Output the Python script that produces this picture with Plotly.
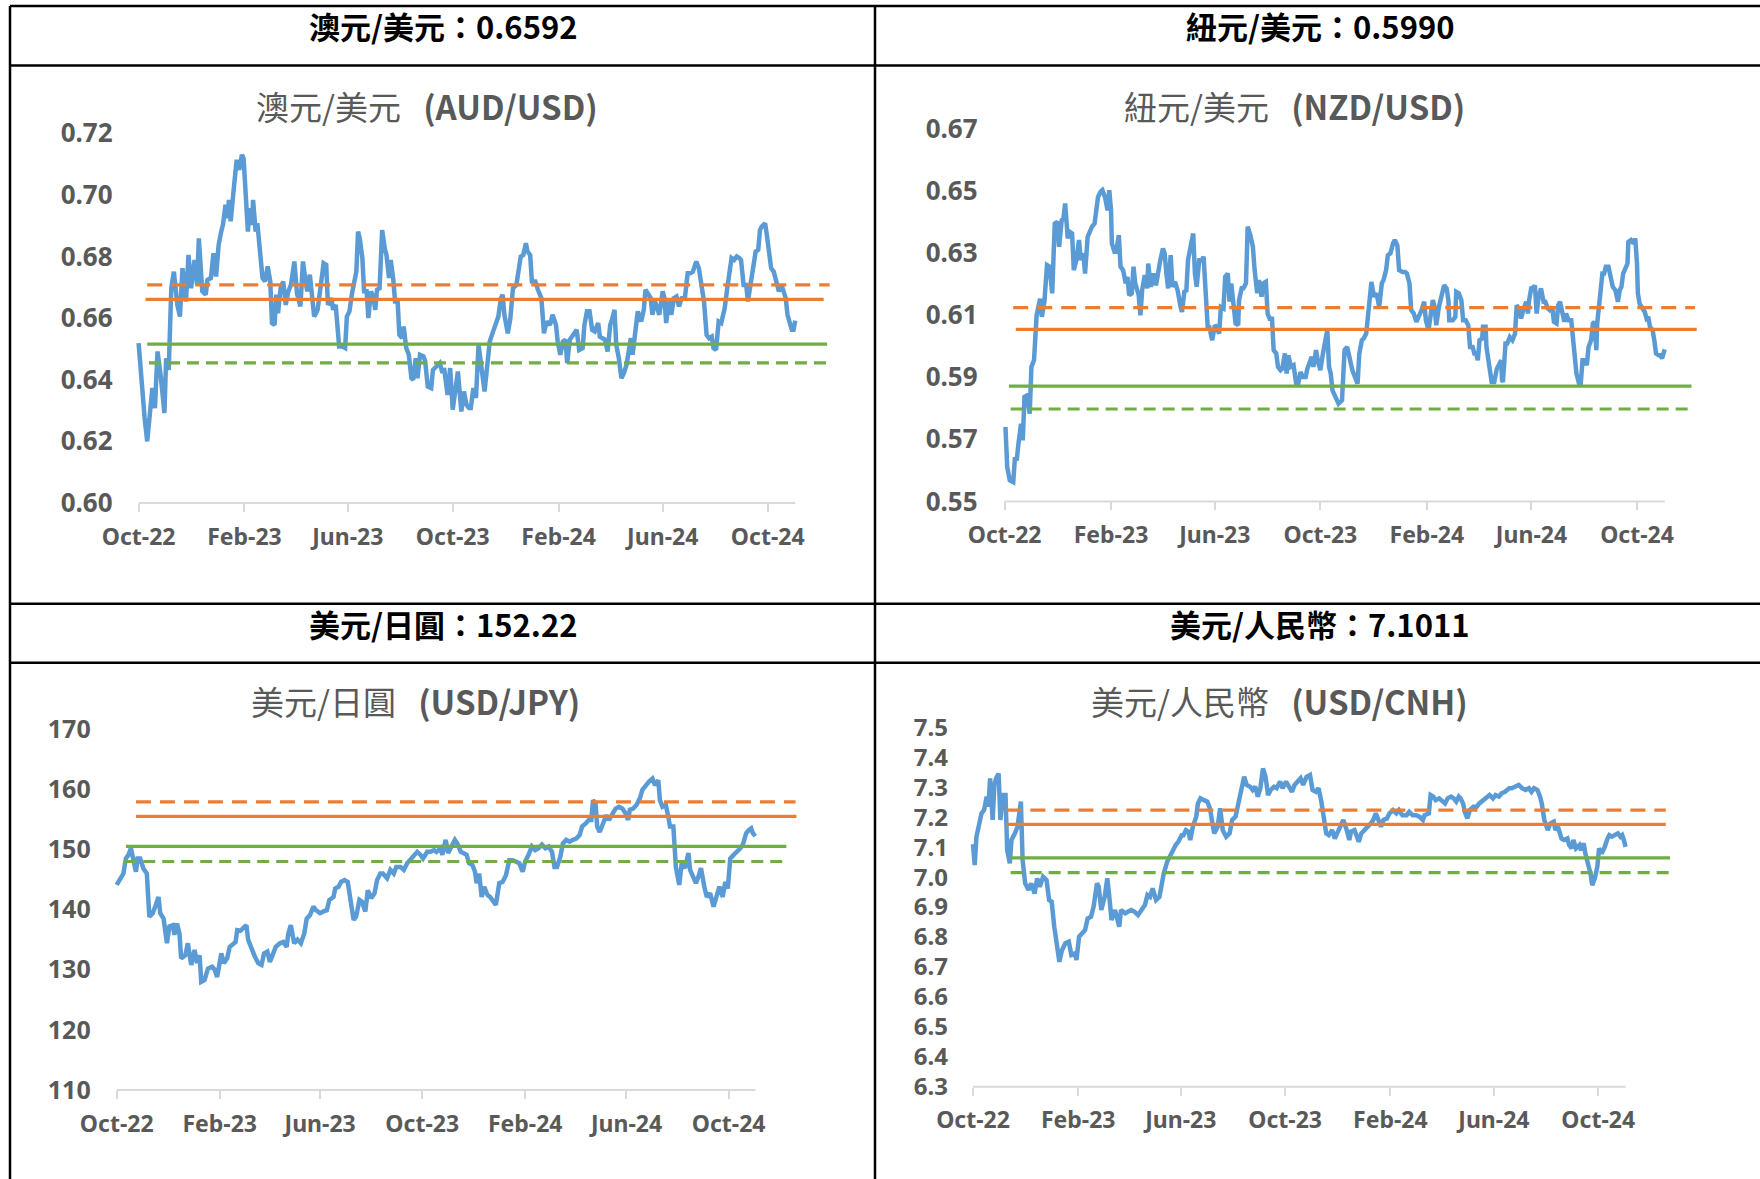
import pandas as pd
import plotly.graph_objects as go

W, H = 1760, 1179
BASE = pd.Timestamp("2022-10-01")   # day 0 of every "days" list below

# ---------------- shared axis labels ----------------
x_tick_dates = ["2022-10-01", "2023-02-01", "2023-06-01", "2023-10-01",
                "2024-02-01", "2024-06-01", "2024-10-01"]
x_tick_text = ["Oct-22", "Feb-23", "Jun-23", "Oct-23", "Feb-24", "Jun-24", "Oct-24"]

# ---------------- AUD/USD ----------------
aud_days = [0, 3, 7, 10, 13, 16, 19, 22, 26, 30,
            32, 35, 38, 41, 45, 48, 51, 55, 58, 61,
            65, 68, 70, 74, 78, 80, 84, 87, 90, 93,
            96, 98, 101, 103, 105, 107, 111, 114, 117, 120,
            122, 125, 127, 129, 132, 133, 136, 138, 141, 144,
            147, 150, 153, 155, 158, 160, 162, 165, 168, 171,
            174, 177, 181, 184, 188, 191, 194, 196, 199, 202,
            204, 208, 212, 215, 218, 220, 224, 226, 229, 233,
            237, 240, 242, 245, 248, 251, 253, 255, 257, 260,
            262, 265, 267, 270, 273, 275, 277, 280, 283, 286,
            288, 291, 293, 296, 298, 301, 303, 306, 308, 311,
            314, 317, 319, 322, 324, 327, 331, 333, 336, 340,
            342, 346, 350, 353, 355, 359, 362, 365, 368, 371,
            375, 378, 381, 384, 386, 389, 392, 395, 402, 408,
            412, 415, 418, 421, 423, 425, 429, 432, 435, 439,
            442, 444, 447, 450, 452, 455, 457, 461, 464, 468,
            471, 474, 478, 481, 485, 487, 490, 493, 496, 498,
            501, 505, 509, 512, 516, 518, 521, 524, 527, 530,
            534, 536, 539, 542, 545, 548, 550, 553, 555, 558,
            561, 564, 567, 570, 572, 574, 578, 580, 584, 587,
            589, 592, 595, 597, 600, 602, 605, 609, 611, 613,
            616, 619, 622, 625, 628, 631, 635, 638, 641, 644,
            648, 651, 654, 657, 660, 663, 666, 668, 671, 674,
            677, 681, 684, 686, 689, 692, 695, 698, 700, 703,
            706, 708, 711, 714, 717, 720, 722, 724, 728, 730,
            733, 735, 738, 741, 744, 747, 750, 752, 754, 756,
            759, 761, 763]
aud_vals = [0.6519, 0.6405, 0.6276, 0.6200, 0.6287, 0.6373, 0.6308, 0.6492, 0.6405, 0.6292,
            0.6470, 0.6432, 0.6697, 0.6751, 0.6643, 0.6605, 0.6762, 0.6654, 0.6805, 0.6697,
            0.6789, 0.6708, 0.6859, 0.6687, 0.6676, 0.6724, 0.6730, 0.6811, 0.6735, 0.6838,
            0.6881, 0.6903, 0.6968, 0.6924, 0.6984, 0.6914, 0.7032, 0.7114, 0.7081, 0.7130,
            0.7119, 0.6957, 0.6881, 0.6957, 0.6903, 0.6984, 0.6881, 0.6908, 0.6805, 0.6730,
            0.6719, 0.6768, 0.6719, 0.6584, 0.6578, 0.6676, 0.6616, 0.6697, 0.6719, 0.6643,
            0.6687, 0.6708, 0.6784, 0.6681, 0.6638, 0.6784, 0.6719, 0.6687, 0.6741, 0.6665,
            0.6605, 0.6627, 0.6708, 0.6778, 0.6773, 0.6643, 0.6665, 0.6627, 0.6643, 0.6508,
            0.6508, 0.6503, 0.6605, 0.6622, 0.6681, 0.6735, 0.6751, 0.6881, 0.6859, 0.6795,
            0.6687, 0.6687, 0.6600, 0.6687, 0.6665, 0.6627, 0.6692, 0.6697, 0.6886, 0.6827,
            0.6805, 0.6730, 0.6789, 0.6724, 0.6654, 0.6654, 0.6546, 0.6535, 0.6573, 0.6503,
            0.6481, 0.6405, 0.6400, 0.6470, 0.6405, 0.6481, 0.6476, 0.6460, 0.6378, 0.6373,
            0.6432, 0.6443, 0.6454, 0.6422, 0.6438, 0.6351, 0.6438, 0.6303, 0.6362, 0.6427,
            0.6297, 0.6362, 0.6319, 0.6308, 0.6308, 0.6373, 0.6341, 0.6514, 0.6362, 0.6524,
            0.6557, 0.6578, 0.6605, 0.6665, 0.6676, 0.6611, 0.6551, 0.6600, 0.6697, 0.6708,
            0.6762, 0.6800, 0.6805, 0.6843, 0.6816, 0.6805, 0.6719, 0.6719, 0.6692, 0.6665,
            0.6551, 0.6589, 0.6578, 0.6611, 0.6578, 0.6524, 0.6481, 0.6524, 0.6530, 0.6454,
            0.6530, 0.6546, 0.6562, 0.6497, 0.6503, 0.6578, 0.6622, 0.6622, 0.6562, 0.6557,
            0.6584, 0.6540, 0.6535, 0.6530, 0.6492, 0.6578, 0.6594, 0.6627, 0.6514, 0.6470,
            0.6405, 0.6422, 0.6449, 0.6508, 0.6535, 0.6481, 0.6600, 0.6622, 0.6589, 0.6627,
            0.6692, 0.6681, 0.6665, 0.6611, 0.6654, 0.6638, 0.6611, 0.6687, 0.6665, 0.6584,
            0.6654, 0.6611, 0.6665, 0.6670, 0.6638, 0.6665, 0.6670, 0.6746, 0.6746, 0.6751,
            0.6784, 0.6762, 0.6708, 0.6654, 0.6546, 0.6535, 0.6540, 0.6503, 0.6497, 0.6589,
            0.6584, 0.6632, 0.6697, 0.6746, 0.6795, 0.6789, 0.6800, 0.6795, 0.6789, 0.6708,
            0.6708, 0.6654, 0.6708, 0.6751, 0.6816, 0.6822, 0.6886, 0.6897, 0.6908, 0.6870,
            0.6795, 0.6762, 0.6751, 0.6719, 0.6687, 0.6708, 0.6676, 0.6665, 0.6611, 0.6594,
            0.6562, 0.6562, 0.6592]
# reference lines: [orange dashed, orange solid, green solid, green dashed]
aud_ref_levels = [0.6708, 0.6661, 0.6516, 0.6455]
aud_ref_start = [10, 8, 10, 12]
aud_ref_end = [803, 796, 800, 803]
aud_yticks = [0.60, 0.62, 0.64, 0.66, 0.68, 0.70, 0.72]

# ---------------- NZD/USD ----------------
nzd_days = [1, 3, 6, 10, 12, 14, 16, 19, 21, 23,
            26, 29, 31, 34, 37, 41, 43, 46, 49, 52,
            55, 58, 61, 63, 66, 68, 70, 73, 75, 78,
            80, 83, 86, 88, 91, 93, 96, 98, 101, 104,
            106, 108, 111, 113, 116, 119, 121, 123, 124, 127,
            129, 132, 134, 137, 140, 142, 144, 147, 149, 151,
            155, 157, 159, 162, 165, 166, 169, 172, 175, 178,
            180, 183, 185, 187, 189, 192, 194, 197, 200, 203,
            205, 208, 210, 212, 215, 218, 220, 222, 225, 228,
            230, 232, 235, 237, 240, 243, 245, 248, 250, 253,
            255, 258, 260, 262, 265, 267, 270, 271, 274, 276,
            279, 281, 284, 287, 289, 292, 294, 297, 299, 302,
            304, 307, 309, 311, 314, 316, 319, 321, 324, 326,
            328, 331, 334, 337, 339, 342, 345, 348, 350, 353,
            355, 357, 360, 362, 365, 368, 370, 373, 375, 377,
            379, 382, 386, 390, 393, 396, 402, 408, 410, 413,
            415, 418, 420, 422, 424, 427, 430, 433, 436, 438,
            441, 443, 446, 449, 451, 454, 456, 460, 463, 465,
            468, 470, 473, 476, 479, 482, 485, 487, 490, 492,
            495, 497, 499, 502, 505, 508, 511, 513, 514, 518,
            521, 522, 525, 528, 530, 533, 536, 538, 541, 543,
            545, 547, 549, 552, 553, 556, 557, 559, 561, 563,
            566, 569, 572, 574, 575, 576, 579, 581, 584, 587,
            590, 592, 594, 597, 600, 603, 605, 606, 609, 611,
            613, 615, 617, 620, 623, 625, 628, 630, 633, 635,
            638, 640, 642, 644, 647, 649, 652, 655, 657, 659,
            661, 664, 666, 668, 671, 673, 675, 678, 680, 682,
            684, 685, 687, 689, 691, 693, 695, 698, 701, 703,
            706, 709, 711, 713, 715, 718, 720, 721, 724, 727,
            729, 731, 732, 734, 737, 740, 742, 744, 746, 749,
            751, 753, 756, 758, 760, 763]
nzd_vals = [0.5740, 0.5611, 0.5568, 0.5562, 0.5643, 0.5632, 0.5686, 0.5750, 0.5697, 0.5837,
            0.5842, 0.5783, 0.5934, 0.5955, 0.6100, 0.6154, 0.6095, 0.6144, 0.6262, 0.6257,
            0.6171, 0.6396, 0.6402, 0.6321, 0.6407, 0.6413, 0.6461, 0.6348, 0.6370, 0.6364,
            0.6246, 0.6278, 0.6343, 0.6278, 0.6300, 0.6235, 0.6353, 0.6370, 0.6386, 0.6396,
            0.6439, 0.6482, 0.6499, 0.6504, 0.6482, 0.6439, 0.6504, 0.6439, 0.6332, 0.6305,
            0.6305, 0.6359, 0.6257, 0.6246, 0.6203, 0.6224, 0.6165, 0.6171, 0.6257, 0.6203,
            0.6165, 0.6100, 0.6181, 0.6230, 0.6187, 0.6267, 0.6192, 0.6235, 0.6197, 0.6262,
            0.6278, 0.6316, 0.6300, 0.6235, 0.6187, 0.6294, 0.6192, 0.6208, 0.6181, 0.6133,
            0.6111, 0.6181, 0.6176, 0.6278, 0.6326, 0.6364, 0.6235, 0.6192, 0.6278, 0.6278,
            0.6289, 0.6171, 0.6052, 0.6057, 0.6020, 0.6068, 0.6063, 0.6041, 0.6127, 0.6122,
            0.6224, 0.6235, 0.6144, 0.6203, 0.6138, 0.6074, 0.6068, 0.6149, 0.6187, 0.6187,
            0.6203, 0.6386, 0.6359, 0.6321, 0.6246, 0.6171, 0.6214, 0.6160, 0.6203, 0.6208,
            0.6106, 0.6084, 0.6095, 0.5988, 0.5977, 0.5934, 0.5923, 0.5928, 0.5977, 0.5912,
            0.5971, 0.5934, 0.5939, 0.5880, 0.5874, 0.5917, 0.5901, 0.5901, 0.5928, 0.5955,
            0.5966, 0.5934, 0.5988, 0.5955, 0.5923, 0.5977, 0.6009, 0.6052, 0.5934, 0.5912,
            0.5858, 0.5837, 0.5815, 0.5826, 0.5988, 0.5998, 0.5923, 0.5880, 0.5977, 0.6020,
            0.6025, 0.6041, 0.6095, 0.6127, 0.6208, 0.6160, 0.6171, 0.6127, 0.6203, 0.6214,
            0.6246, 0.6294, 0.6300, 0.6332, 0.6343, 0.6326, 0.6246, 0.6240, 0.6240, 0.6235,
            0.6203, 0.6117, 0.6106, 0.6079, 0.6095, 0.6117, 0.6144, 0.6084, 0.6052, 0.6084,
            0.6149, 0.6127, 0.6068, 0.6127, 0.6171, 0.6197, 0.6187, 0.6149, 0.6084, 0.6084,
            0.6095, 0.6176, 0.6171, 0.6149, 0.6084, 0.6084, 0.6068, 0.5998, 0.5998, 0.5977,
            0.5977, 0.5955, 0.6020, 0.6025, 0.6063, 0.6063, 0.5998, 0.5955, 0.5928, 0.5885,
            0.5885, 0.5928, 0.5944, 0.5955, 0.5890, 0.5885, 0.6009, 0.6009, 0.6030, 0.6020,
            0.6041, 0.6133, 0.6122, 0.6090, 0.6122, 0.6144, 0.6106, 0.6144, 0.6192, 0.6187,
            0.6197, 0.6106, 0.6154, 0.6187, 0.6144, 0.6144, 0.6122, 0.6117, 0.6127, 0.6079,
            0.6074, 0.6133, 0.6144, 0.6122, 0.6079, 0.6106, 0.6084, 0.6084, 0.6020, 0.5977,
            0.5912, 0.5880, 0.5880, 0.5955, 0.5955, 0.5939, 0.5998, 0.6020, 0.6074, 0.6079,
            0.5988, 0.6074, 0.6127, 0.6160, 0.6235, 0.6235, 0.6257, 0.6257, 0.6224, 0.6192,
            0.6181, 0.6144, 0.6181, 0.6192, 0.6235, 0.6251, 0.6267, 0.6337, 0.6343, 0.6332,
            0.6348, 0.6267, 0.6171, 0.6138, 0.6127, 0.6111, 0.6090, 0.6095, 0.6063, 0.6052,
            0.6020, 0.5977, 0.5971, 0.5971, 0.5961, 0.5990]
nzd_ref_levels = [0.6125, 0.6055, 0.5872, 0.5798]
nzd_ref_start = [10, 13, 5, 7]
nzd_ref_end = [798, 800, 794, 797]
nzd_yticks = [0.55, 0.57, 0.59, 0.61, 0.63, 0.65, 0.67]

# ---------------- USD/JPY ----------------
jpy_days = [0, 4, 8, 11, 14, 17, 20, 23, 25, 28,
            32, 36, 39, 43, 46, 50, 52, 56, 60, 63,
            67, 69, 72, 75, 77, 82, 85, 89, 93, 96,
            99, 101, 105, 109, 114, 117, 120, 123, 125, 128,
            132, 135, 139, 142, 144, 148, 151, 155, 157, 162,
            165, 169, 173, 176, 180, 183, 187, 190, 195, 199,
            203, 205, 208, 212, 216, 220, 224, 227, 231, 235,
            238, 243, 247, 251, 254, 259, 261, 265, 268, 272,
            276, 279, 283, 286, 290, 293, 297, 300, 304, 308,
            311, 315, 318, 323, 327, 331, 334, 339, 343, 347,
            350, 355, 359, 363, 366, 371, 375, 379, 382, 387,
            389, 393, 396, 400, 404, 407, 411, 414, 418, 421,
            425, 428, 430, 433, 436, 439, 443, 446, 450, 453,
            457, 461, 465, 469, 473, 477, 481, 485, 488, 492,
            496, 500, 504, 508, 512, 516, 520, 523, 526, 530,
            533, 537, 541, 545, 549, 553, 556, 560, 564, 567,
            569, 572, 574, 577, 581, 585, 588, 592, 596, 600,
            604, 608, 611, 613, 617, 621, 625, 628, 632, 636,
            640, 643, 647, 649, 652, 656, 659, 661, 665, 668,
            672, 675, 679, 683, 685, 689, 692, 695, 698, 702,
            705, 709, 713, 716, 720, 724, 727, 730, 733, 737,
            741, 745, 748, 752, 755, 758, 760, 763]
jpy_vals = [144.1, 145.2, 146.0, 148.5, 149.1, 150.2, 148.2, 146.3, 148.5, 148.5,
            146.8, 146.0, 138.8, 139.4, 140.5, 142.1, 139.4, 138.5, 134.4, 137.2,
            137.4, 135.8, 137.7, 136.0, 131.9, 132.4, 134.4, 130.8, 133.3, 131.1,
            132.4, 128.0, 128.3, 130.2, 130.5, 130.0, 128.8, 131.6, 132.7, 131.1,
            131.9, 133.8, 134.3, 134.6, 136.6, 136.5, 136.9, 137.4, 135.0, 133.0,
            132.2, 131.1, 130.8, 132.7, 133.0, 131.3, 132.7, 133.8, 134.4, 134.6,
            133.8, 136.0, 137.4, 134.4, 135.0, 134.4, 136.0, 138.5, 139.1, 140.5,
            139.9, 139.4, 139.7, 139.9, 141.6, 142.1, 143.5, 143.8, 144.6, 144.9,
            144.6, 141.9, 138.3, 138.8, 141.6, 141.3, 139.7, 143.2, 141.9, 142.7,
            144.9, 146.0, 146.0, 145.2, 146.6, 146.0, 147.1, 147.1, 146.6, 147.7,
            148.2, 148.8, 149.6, 149.1, 148.5, 149.6, 149.6, 149.9, 149.6, 150.2,
            149.1, 151.6, 149.4, 150.5, 151.6, 151.0, 149.6, 149.4, 149.1, 147.7,
            147.4, 146.3, 144.4, 146.0, 142.1, 143.8, 142.4, 142.1, 141.3, 140.8,
            144.4, 144.6, 145.7, 148.2, 148.2, 148.0, 147.7, 146.3, 148.0, 149.1,
            150.5, 149.9, 150.2, 150.8, 150.2, 150.5, 149.6, 147.1, 147.1, 148.8,
            151.0, 151.6, 151.3, 151.6, 151.8, 152.4, 153.8, 154.3, 154.9, 154.9,
            158.2, 157.7, 153.8, 152.9, 154.3, 155.7, 154.9, 156.0, 156.8, 157.1,
            156.8, 156.0, 154.9, 156.6, 156.8, 157.4, 158.5, 159.9, 160.7, 161.3,
            161.8, 160.7, 161.5, 158.2, 157.1, 157.4, 155.4, 153.8, 153.8, 147.1,
            144.1, 147.7, 146.9, 149.4, 146.6, 145.5, 144.4, 145.5, 146.9, 143.8,
            142.1, 142.7, 140.5, 141.9, 143.8, 142.1, 144.6, 143.5, 148.5, 149.1,
            149.6, 150.2, 150.8, 152.7, 153.2, 153.5, 152.7, 152.22]
jpy_ref_levels = [157.9, 155.5, 150.5, 148.0]
jpy_ref_start = [23, 23, 11, 9]
jpy_ref_end = [811, 812, 800, 797]
jpy_yticks = [110, 120, 130, 140, 150, 160, 170]

# ---------------- USD/CNH ----------------
cnh_days = [0, 2, 4, 7, 10, 13, 16, 18, 20, 23,
            25, 27, 30, 32, 35, 38, 40, 43, 45, 49,
            52, 56, 58, 61, 65, 68, 72, 75, 78, 82,
            86, 89, 92, 95, 98, 101, 104, 108, 112, 115,
            119, 121, 124, 127, 131, 134, 138, 141, 145, 147,
            150, 154, 157, 159, 162, 166, 168, 171, 173, 178,
            181, 185, 189, 193, 197, 201, 204, 207, 210, 214,
            218, 220, 223, 227, 230, 233, 237, 240, 244, 246,
            249, 252, 254, 257, 261, 263, 266, 270, 274, 277,
            279, 282, 286, 289, 292, 296, 300, 303, 307, 310,
            313, 317, 320, 324, 327, 330, 333, 336, 339, 342,
            345, 348, 352, 355, 359, 362, 366, 369, 373, 376,
            380, 383, 386, 390, 394, 397, 401, 404, 407, 409,
            413, 416, 420, 423, 427, 430, 433, 437, 440, 442,
            446, 449, 451, 454, 458, 462, 465, 468, 471, 474,
            477, 480, 484, 487, 491, 495, 498, 502, 507, 510,
            514, 518, 522, 526, 528, 533, 535, 538, 541, 545,
            548, 552, 555, 559, 562, 565, 568, 570, 573, 575,
            578, 581, 585, 589, 592, 596, 600, 604, 608, 611,
            615, 618, 622, 627, 630, 634, 638, 642, 646, 650,
            653, 656, 660, 663, 665, 668, 672, 675, 679, 681,
            684, 688, 691, 695, 697, 700, 702, 705, 709, 711,
            714, 716, 719, 722, 724, 727, 730, 732, 735, 738,
            742, 744, 747, 750, 754, 757, 759, 761, 763]
cnh_vals = [7.110, 7.040, 7.135, 7.168, 7.213, 7.224, 7.269, 7.235, 7.330, 7.191,
            7.308, 7.330, 7.346, 7.191, 7.274, 7.274, 7.090, 7.046, 7.124, 7.146,
            7.168, 7.252, 7.057, 6.979, 6.957, 6.979, 6.945, 6.996, 6.968, 7.001,
            6.990, 6.923, 6.918, 6.834, 6.784, 6.717, 6.756, 6.779, 6.784, 6.740,
            6.745, 6.723, 6.801, 6.812, 6.823, 6.862, 6.868, 6.901, 6.979, 6.968,
            6.890, 6.934, 6.996, 6.945, 6.857, 6.890, 6.868, 6.834, 6.890, 6.879,
            6.884, 6.890, 6.884, 6.873, 6.890, 6.907, 6.940, 6.934, 6.962, 6.923,
            6.934, 6.968, 7.012, 7.051, 7.068, 7.090, 7.107, 7.118, 7.140, 7.140,
            7.157, 7.152, 7.124, 7.168, 7.202, 7.246, 7.263, 7.257, 7.252, 7.230,
            7.191, 7.146, 7.168, 7.230, 7.157, 7.135, 7.146, 7.191, 7.202, 7.246,
            7.280, 7.335, 7.308, 7.302, 7.291, 7.302, 7.269, 7.297, 7.363, 7.335,
            7.274, 7.291, 7.302, 7.297, 7.319, 7.297, 7.319, 7.302, 7.285, 7.308,
            7.324, 7.330, 7.308, 7.335, 7.341, 7.291, 7.285, 7.297, 7.257, 7.224,
            7.146, 7.140, 7.157, 7.129, 7.157, 7.179, 7.191, 7.157, 7.124, 7.152,
            7.157, 7.135, 7.118, 7.146, 7.157, 7.168, 7.179, 7.191, 7.213, 7.191,
            7.168, 7.191, 7.196, 7.213, 7.224, 7.213, 7.224, 7.207, 7.207, 7.218,
            7.207, 7.207, 7.202, 7.191, 7.207, 7.213, 7.274, 7.269, 7.257, 7.263,
            7.257, 7.246, 7.263, 7.269, 7.263, 7.252, 7.269, 7.263, 7.246, 7.218,
            7.196, 7.224, 7.235, 7.235, 7.246, 7.257, 7.263, 7.274, 7.263, 7.274,
            7.269, 7.280, 7.285, 7.297, 7.297, 7.302, 7.308, 7.297, 7.291, 7.297,
            7.285, 7.297, 7.291, 7.269, 7.246, 7.191, 7.157, 7.179, 7.185, 7.157,
            7.168, 7.129, 7.124, 7.129, 7.107, 7.096, 7.124, 7.096, 7.107, 7.090,
            7.113, 7.079, 7.046, 7.012, 6.973, 6.996, 7.035, 7.096, 7.079, 7.096,
            7.129, 7.140, 7.135, 7.140, 7.146, 7.135, 7.140, 7.124, 7.1011]
cnh_ref_levels = [7.224, 7.176, 7.064, 7.015]
cnh_ref_start = [39, 39, 44, 44]
cnh_ref_end = [810, 810, 815, 815]
cnh_yticks = [6.3, 6.4, 6.5, 6.6, 6.7, 6.8, 6.9, 7.0, 7.1, 7.2, 7.3, 7.4, 7.5]

# ---------------- styling ----------------
BLUE, ORANGE, GREEN = "#5B9BD5", "#ED7D31", "#70AD47"
AXIS_GREY, LABEL_GREY = "#D9D9D9", "#595959"
REF_STYLES = [(ORANGE, "15px,9px"), (ORANGE, "solid"), (GREEN, "solid"), (GREEN, "12px,7px")]
CJK = "Noto Sans CJK TC"
NUM = "Noto Sans"

# panel geometry (pixels of the 1760x1179 page)
panels = [
    dict(name="澳元/美元", code="AUD/USD", days=aud_days, vals=aud_vals,
         ref=(aud_ref_levels, aud_ref_start, aud_ref_end), yticks=aud_yticks,
         yfmt="{:.2f}", hfmt="{:.4f}",
         x0=138.6, x24=767.7, xr=840, top=133.3, bot=503.0, lab_r=110.5,
         head=(443, 26), title=(427, 106), yfs=26),
    dict(name="紐元/美元", code="NZD/USD", days=nzd_days, vals=nzd_vals,
         ref=(nzd_ref_levels, nzd_ref_start, nzd_ref_end), yticks=nzd_yticks,
         yfmt="{:.2f}", hfmt="{:.4f}",
         x0=1004.6, x24=1637.0, xr=1705, top=129.3, bot=501.4, lab_r=975.4,
         head=(1320, 26), title=(1294, 106), yfs=26),
    dict(name="美元/日圓", code="USD/JPY", days=jpy_days, vals=jpy_vals,
         ref=(jpy_ref_levels, jpy_ref_start, jpy_ref_end), yticks=jpy_yticks,
         yfmt="{:.0f}", hfmt="{:.2f}",
         x0=116.7, x24=728.6, xr=820, top=729.2, bot=1090.0, lab_r=88.7,
         head=(443, 623), title=(415, 701), yfs=25),
    dict(name="美元/人民幣", code="USD/CNH", days=cnh_days, vals=cnh_vals,
         ref=(cnh_ref_levels, cnh_ref_start, cnh_ref_end), yticks=cnh_yticks,
         yfmt="{:.1f}", hfmt="{:.4f}",
         x0=973.0, x24=1598.2, xr=1680, top=727.4, bot=1086.7, lab_r=945.7,
         head=(1320, 623), title=(1279, 701), yfs=24),
]

def to_dates(days):
    return BASE + pd.to_timedelta(pd.Series(days, dtype=float), unit="D")

fig = go.Figure()
layout = dict(width=W, height=H, margin=dict(l=0, r=0, t=0, b=0, autoexpand=False),
              paper_bgcolor="white", plot_bgcolor="white", showlegend=False,
              template="none")
shapes, annotations = [], []
PAD = 6
span_days = (pd.Timestamp(x_tick_dates[-1]) - BASE).days

for i, p in enumerate(panels, 1):
    xa = "x" if i == 1 else f"x{i}"
    ya = "y" if i == 1 else f"y{i}"
    ppd = (p["x24"] - p["x0"]) / span_days
    r0 = BASE - pd.Timedelta(days=PAD / ppd)
    r1 = BASE + pd.Timedelta(days=(p["xr"] - p["x0"]) / ppd)
    dates = to_dates(p["days"])

    fig.add_trace(go.Scatter(x=dates, y=p["vals"], mode="lines",
                             line=dict(color=BLUE, width=4.5), xaxis=xa, yaxis=ya,
                             hoverinfo="skip"))
    levels, starts, ends = p["ref"]
    for lvl, s, e, (col, dash) in zip(levels, starts, ends, REF_STYLES):
        fig.add_trace(go.Scatter(x=to_dates([s, e]), y=[lvl, lvl], mode="lines",
                                 line=dict(color=col, width=3.2, dash=dash),
                                 xaxis=xa, yaxis=ya, hoverinfo="skip"))

    layout["xaxis" if i == 1 else f"xaxis{i}"] = dict(
        type="date", domain=[(p["x0"] - PAD) / W, p["xr"] / W], range=[r0, r1],
        anchor=ya, automargin=False, showgrid=False, zeroline=False, showline=False,
        tickmode="array", tickvals=x_tick_dates, ticktext=x_tick_text,
        ticks="outside", ticklen=8, tickwidth=2, tickcolor=AXIS_GREY,
        ticklabelstandoff=5,
        tickfont=dict(family=NUM, size=23, color=LABEL_GREY, weight="bold"))
    yt = p["yticks"]
    layout["yaxis" if i == 1 else f"yaxis{i}"] = dict(
        domain=[1 - p["bot"] / H, 1 - p["top"] / H], range=[yt[0], yt[-1]],
        anchor=xa, automargin=False, showgrid=False, zeroline=False, showline=False,
        ticks="",
        tickmode="array", tickvals=yt, ticktext=[p["yfmt"].format(v) for v in yt],
        ticklabelstandoff=max(0, round((p["x0"] - PAD) - p["lab_r"] - 3)),
        tickfont=dict(family=NUM, size=p["yfs"], color=LABEL_GREY, weight="bold"))

    # category-axis baseline (first tick to last observation)
    shapes.append(dict(type="line", xref=xa, yref=f"{ya} domain",
                       x0=x_tick_dates[0], x1=dates.iloc[-1], y0=0, y1=0,
                       line=dict(color=AXIS_GREY, width=2), layer="above"))

    hx, hy = p["head"]
    annotations.append(dict(
        x=hx / W, y=1 - hy / H, xref="paper", yref="paper", showarrow=False,
        xanchor="center", yanchor="middle",
        text=f"<b>{p['name']}：{p['hfmt'].format(p['vals'][-1])}</b>",
        font=dict(family=CJK, size=31, color="black")))
    tx, ty = p["title"]
    annotations.append(dict(
        x=tx / W, y=1 - ty / H, xref="paper", yref="paper", showarrow=False,
        xanchor="center", yanchor="middle",
        text=f"{p['name']}&nbsp;&nbsp;&nbsp;<b>({p['code']})</b>",
        font=dict(family=CJK, size=33, color=LABEL_GREY)))

# table grid
for yy in [6, 65.5, 603.7, 662.8]:
    shapes.append(dict(type="line", xref="paper", yref="paper",
                       x0=10 / W, x1=1.0, y0=1 - yy / H, y1=1 - yy / H,
                       line=dict(color="black", width=2.5)))
for xx in [10, 875]:
    shapes.append(dict(type="line", xref="paper", yref="paper",
                       x0=xx / W, x1=xx / W, y0=1 - 6 / H, y1=0,
                       line=dict(color="black", width=2.5)))

layout["shapes"] = shapes
layout["annotations"] = annotations
fig.update_layout(**layout)

fig.write_html("out.html", config={"displayModeBar": False},
               post_script="document.body.style.margin='0';document.body.style.padding='0';")
